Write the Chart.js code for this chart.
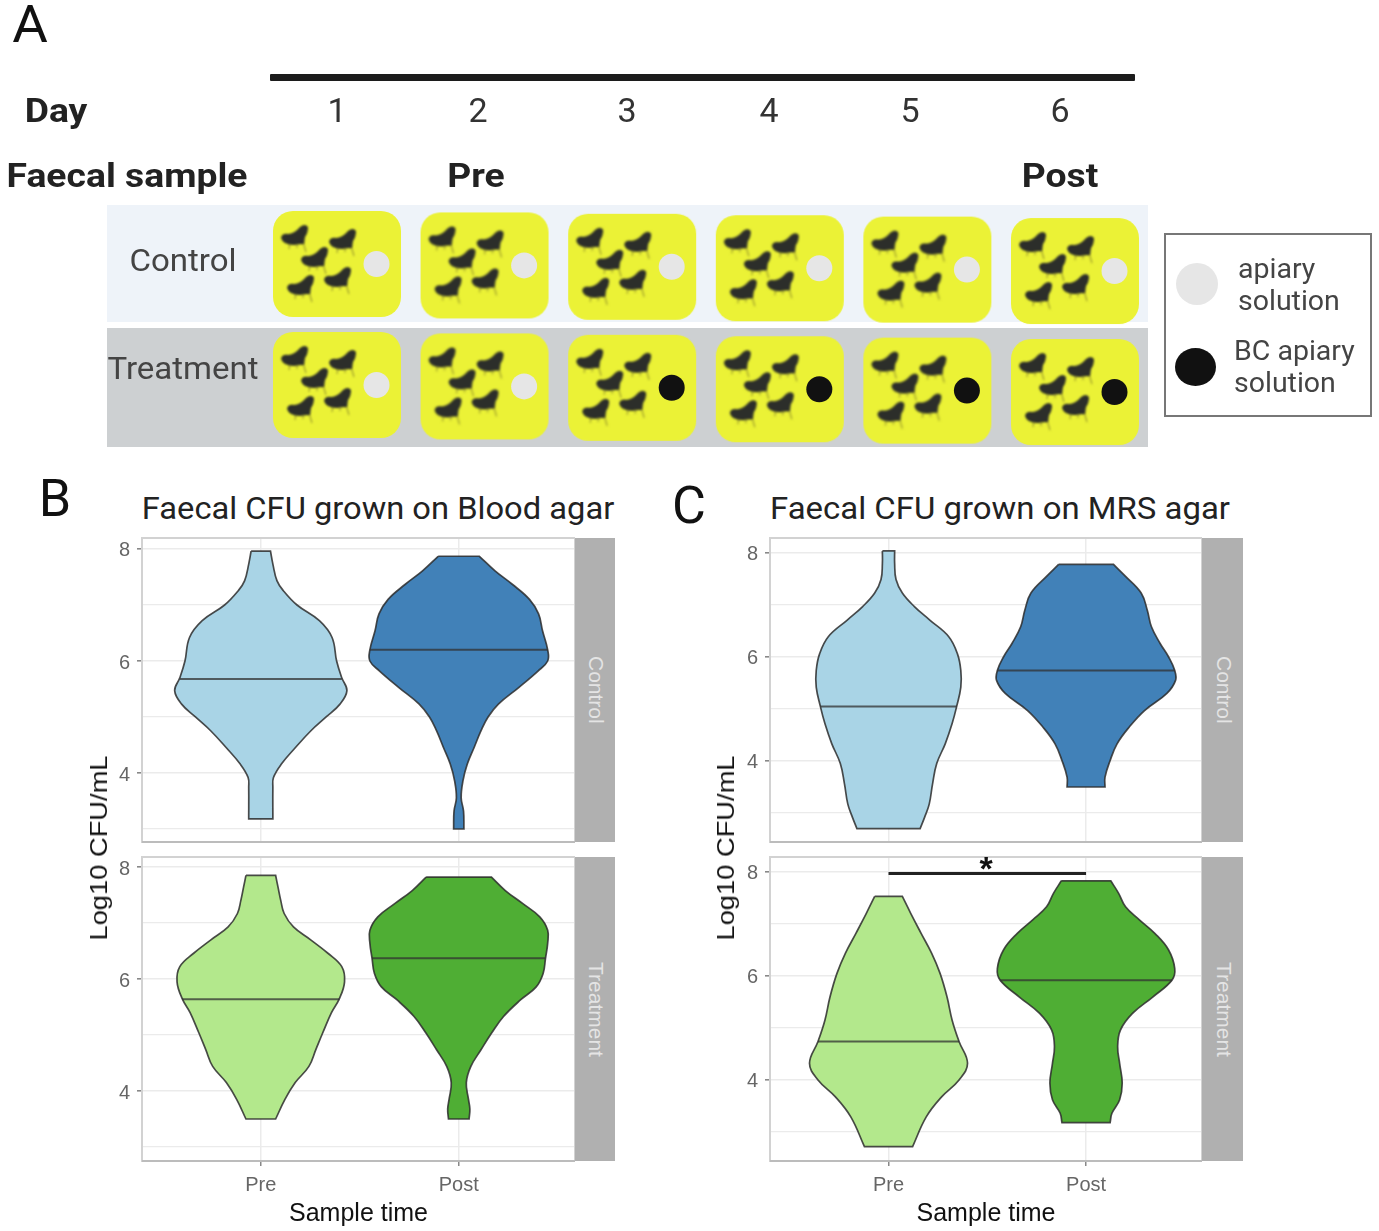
<!DOCTYPE html>
<html>
<head>
<meta charset="utf-8">
<title>Faecal CFU</title>
<script src="https://cdn.jsdelivr.net/npm/chart.js@4/dist/chart.umd.min.js"></script>
<style>
  html, body { margin: 0; padding: 0; background: #fff; }
  #page { position: relative; width: 1379px; height: 1231px; overflow: hidden; font-family: Roboto, sans-serif; }
  #page canvas { position: absolute; }
  .txt { position: absolute; white-space: nowrap; transform: translate(-50%, -50%); line-height: 1; }
  .box { position: absolute; }
  .strip { position: absolute; background: #b0b0b0; color: #e4e4e4; font: 21px "Liberation Sans", sans-serif;
           writing-mode: vertical-rl; text-align: center; line-height: 37px; }
</style>
</head>
<body>
<div id="page">
  <div class="box" style="left:107px;top:205px;width:1041px;height:117px;background:#eef3f9"></div>
  <div class="box" style="left:107px;top:328px;width:1041px;height:119px;background:#cdd0d2"></div>
  <div class="box" style="left:270px;top:74px;width:865px;height:7px;background:#1c1c1c;border-radius:1px"></div>
  <div class="box" style="left:1164px;top:233px;width:204px;height:180px;border:2px solid #777"></div>
  <div class="box" style="left:1176px;top:263px;width:42px;height:42px;border-radius:50%;background:#e6e6e6"></div>
  <div class="box" style="left:1175px;top:348px;width:41px;height:38px;border-radius:50%;background:#111"></div>
  <canvas id="schedule" width="1379" height="460" style="left:0;top:0"></canvas>
  <canvas id="bControl" width="515" height="308" style="left:60px;top:536px"></canvas>
  <canvas id="bTreatment" width="515" height="376" style="left:60px;top:855px"></canvas>
  <canvas id="cControl" width="514" height="308" style="left:688px;top:536px"></canvas>
  <canvas id="cTreatment" width="514" height="376" style="left:688px;top:855px"></canvas>
  <div class="strip" style="left:575px;top:538px;width:40px;height:304px">Control</div>
  <div class="strip" style="left:575px;top:857px;width:40px;height:304px">Treatment</div>
  <div class="strip" style="left:1202px;top:538px;width:41px;height:304px">Control</div>
  <div class="strip" style="left:1202px;top:857px;width:41px;height:304px">Treatment</div>
</div>

<script>
// categories and labels
const days = [1, 2, 3, 4, 5, 6];
const arms = ['Treatment', 'Control'];
const sampleTimes = ['Pre', 'Post'];
const yTicks = [3, 4, 5, 6, 7, 8];

// which solution each arm got on each day
const controlSolution = ['apiary', 'apiary', 'apiary', 'apiary', 'apiary', 'apiary'];
const treatmentSolution = ['apiary', 'apiary', 'BC', 'BC', 'BC', 'BC'];

// violins: log10 CFU levels and half widths (in category units)
const bControlPreY = [7.96, 7.73, 7.43, 7.26, 7.0, 6.72, 6.42, 6.0, 5.7, 5.47, 5.23, 5.0, 4.75, 4.45, 4.16, 3.92, 3.74, 3.18];
const bControlPreW = [0.049, 0.061, 0.082, 0.113, 0.183, 0.296, 0.36, 0.383, 0.409, 0.435, 0.4, 0.33, 0.252, 0.174, 0.104, 0.064, 0.061, 0.061];
const bControlPostY = [7.87, 7.61, 7.37, 7.1, 6.84, 6.54, 6.2, 6.0, 5.82, 5.53, 5.23, 5.0, 4.76, 4.46, 4.16, 3.86, 3.56, 3.32, 3.0];
const bControlPostW = [0.104, 0.183, 0.27, 0.357, 0.403, 0.423, 0.449, 0.449, 0.4, 0.304, 0.2, 0.148, 0.113, 0.078, 0.043, 0.021, 0.012, 0.024, 0.026];
const bTreatPreY = [7.85, 7.64, 7.4, 7.17, 6.93, 6.7, 6.46, 6.22, 5.95, 5.65, 5.4, 5.04, 4.74, 4.44, 4.15, 3.85, 3.5];
const bTreatPreW = [0.075, 0.087, 0.101, 0.118, 0.165, 0.252, 0.339, 0.409, 0.423, 0.397, 0.357, 0.313, 0.278, 0.243, 0.174, 0.122, 0.075];
const bTreatPostY = [7.82, 7.58, 7.35, 7.11, 6.87, 6.64, 6.37, 6.1, 5.86, 5.63, 5.33, 5.03, 4.74, 4.44, 4.15, 3.85, 3.68, 3.5];
const bTreatPostW = [0.165, 0.235, 0.322, 0.409, 0.449, 0.449, 0.438, 0.426, 0.391, 0.313, 0.226, 0.165, 0.113, 0.061, 0.038, 0.049, 0.056, 0.052];
const cControlPreY = [8.04, 7.8, 7.49, 7.23, 6.97, 6.71, 6.39, 6.06, 5.74, 5.42, 5.05, 4.72, 4.33, 3.95, 3.56, 3.17, 2.92, 2.7];
const cControlPreW = [0.031, 0.031, 0.038, 0.07, 0.131, 0.209, 0.305, 0.349, 0.366, 0.366, 0.345, 0.322, 0.287, 0.244, 0.223, 0.206, 0.183, 0.16];
const cControlPostY = [7.78, 7.55, 7.23, 6.9, 6.58, 6.26, 6.0, 5.74, 5.55, 5.3, 4.97, 4.65, 4.33, 4.01, 3.69, 3.5];
const cControlPostW = [0.139, 0.2, 0.279, 0.31, 0.331, 0.375, 0.418, 0.449, 0.453, 0.409, 0.296, 0.218, 0.157, 0.122, 0.096, 0.096];
const cTreatPreY = [7.53, 7.2, 6.82, 6.44, 6.05, 5.6, 5.15, 4.74, 4.32, 4.0, 3.68, 3.29, 2.72];
const cTreatPreW = [0.07, 0.113, 0.165, 0.218, 0.261, 0.296, 0.322, 0.357, 0.4, 0.357, 0.27, 0.191, 0.122];
const cTreatPostY = [7.83, 7.59, 7.33, 7.08, 6.82, 6.5, 6.14, 5.92, 5.6, 5.28, 4.96, 4.64, 4.32, 3.94, 3.62, 3.36, 3.18];
const cTreatPostW = [0.125, 0.165, 0.2, 0.27, 0.348, 0.418, 0.449, 0.435, 0.339, 0.235, 0.174, 0.16, 0.17, 0.183, 0.17, 0.131, 0.122];

// medians [pre, post] and their half widths
const bControlMedian = [5.68, 6.2];
const bControlMedianW = [0.409, 0.449];
const bTreatMedian = [5.64, 6.37];
const bTreatMedianW = [0.397, 0.438];
const cControlMedian = [5.05, 5.74];
const cControlMedianW = [0.345, 0.449];
const cTreatMedian = [4.74, 5.92];
const cTreatMedianW = [0.357, 0.435];

// significance bar in panel C, treatment
const sigBarLevel = 7.97;

const blueLight = '#a9d4e6', blueDark = '#4181b8', greenLight = '#b3e88c', greenDark = '#4fae34';
const lineColor = 'rgba(45,45,45,0.85)';
const page = document.getElementById('page');

function addText(text, x, y, css) {
    const el = document.createElement('div');
    el.className = 'txt';
    el.textContent = text;
    el.style.left = x + 'px';
    el.style.top = y + 'px';
    el.style.cssText += css;
    page.appendChild(el);
}

// the source figure is a little wider than tall, so most text gets a horizontal stretch
function stretch(k) {
    return 'transform:translate(-50%,-50%) scaleX(' + k + ');';
}

// page text
const letterCss = 'font:400 52px Roboto;color:#111;';
addText('A', 30, 24, letterCss + stretch(1.05));
addText('B', 55, 498, letterCss);
addText('C', 689, 505, letterCss);
const boldCss = 'font:700 33px Roboto;color:#222;' + stretch(1.13);
addText('Day', 56, 110, boldCss);
addText('Faecal sample', 127, 175, boldCss);
addText('Pre', 476, 175, boldCss);
addText('Post', 1060, 175, boldCss);
const dayLabelX = [337, 478, 627, 769, 910, 1060];
days.forEach((d, i) => addText(String(d), dayLabelX[i], 110, 'font:400 34px Roboto;color:#333;'));
const armCss = 'font:400 31px Roboto;color:#444;' + stretch(1.065);
addText(arms[1], 183, 260, armCss);
addText(arms[0], 183, 368, armCss);
const legendCss = 'font:400 28.5px Roboto;color:#444;transform:translate(0,-50%);';
addText('apiary', 1238, 268, legendCss);
addText('solution', 1238, 300, legendCss);
addText('BC apiary', 1234, 350, legendCss);
addText('solution', 1234, 382, legendCss);
addText('Faecal CFU grown on Blood agar', 378, 508, 'font:400 31px Roboto;color:#222;' + stretch(1.054));
addText('Faecal CFU grown on MRS agar', 1000, 508, 'font:400 31px Roboto;color:#222;' + stretch(1.062));
const axisCss = 'font:24px "Liberation Sans";color:#111;transform:translate(-50%,-50%) rotate(-90deg) scaleX(1.137);';
addText('Log10 CFU/mL', 99, 848, axisCss);
addText('Log10 CFU/mL', 726, 848, axisCss);
addText('*', 986, 868, 'font:700 34px "Liberation Sans";color:#111;');

// one fly silhouette, centred on 0,0
function drawFly(ctx, x, y) {
    ctx.save();
    ctx.translate(x, y);
    ctx.strokeStyle = '#9a9a2c';
    ctx.lineWidth = 1.1;
    ctx.beginPath();
    ctx.moveTo(-4, 5); ctx.lineTo(-5, 11);
    ctx.moveTo(9, 4); ctx.lineTo(12, 14);
    ctx.moveTo(3, 5); ctx.lineTo(3, 10);
    ctx.stroke();
    ctx.fillStyle = '#2c2e2a';
    ctx.beginPath();
    ctx.moveTo(-13, 0);
    ctx.quadraticCurveTo(-12, -5, -6, -4);
    ctx.quadraticCurveTo(0, -4, 6, -11);
    ctx.quadraticCurveTo(11, -15, 14, -11);
    ctx.quadraticCurveTo(14, -5, 11, -1);
    ctx.lineTo(10, 6);
    ctx.quadraticCurveTo(5, 6, 0, 7);
    ctx.quadraticCurveTo(-11, 7, -13, 0);
    ctx.closePath();
    ctx.fill();
    ctx.restore();
}

// yellow card with five flies, used as the point style of the schedule chart
function makeCard() {
    const c = document.createElement('canvas');
    c.width = 130;
    c.height = 108;
    const ctx = c.getContext('2d');
    ctx.fillStyle = '#ebf236';
    ctx.beginPath();
    ctx.roundRect(1, 1, 128, 106, 20);
    ctx.fill();
    ctx.filter = 'blur(1px)';
    [[22, 28], [70, 32], [42, 50], [28, 78], [65, 70]].forEach(p => drawFly(ctx, p[0], p[1]));
    return c;
}

// panel A: cards and solution dots per day and arm
const rowDrift = -0.0116; // rows slide down a little from day to day in the drawing
const dotOffset = 0.268;
const schedule = [controlSolution, treatmentSolution];
const rowOf = [arms.indexOf('Control'), arms.indexOf('Treatment')];
const cardPoints = [], dotPoints = [], dotColors = [];
schedule.forEach((list, r) => {
    list.forEach((sol, i) => {
        const y = rowOf[r] + i * rowDrift;
        cardPoints.push({ x: days[i], y });
        dotPoints.push({ x: days[i] + dotOffset, y });
        dotColors.push(sol === 'BC' ? '#111111' : '#e6e6e6');
    });
});
new Chart(document.getElementById('schedule'), {
    type: 'scatter',
    data: {
        datasets: [
            { data: dotPoints, pointRadius: 13, pointBackgroundColor: dotColors, pointBorderWidth: 0 },
            { data: cardPoints, pointStyle: makeCard(), pointRadius: 10 }
        ]
    },
    options: {
        responsive: false,
        animation: false,
        layout: { autoPadding: false },
        events: [],
        plugins: { legend: { display: false }, tooltip: { enabled: false } },
        scales: {
            x: { display: false, min: -1.283, max: 8.06 },
            y: { display: false, min: -0.62, max: 3.182 }
        }
    }
});

// closed violin outline around a category, end points doubled to keep the flat ends square
function outline(center, ys, ws) {
    const left = ys.map((y, i) => ({ x: center - ws[i], y }));
    const right = ys.map((y, i) => ({ x: center + ws[i], y })).reverse();
    const n = left.length - 1;
    return [left[0]].concat(left, [left[n]], [right[0]], right, [right[n]], [left[0]]);
}

const panelBorder = {
    id: 'panelBorder',
    afterDatasetsDraw(chart) {
        const a = chart.chartArea, ctx = chart.ctx;
        ctx.save();
        ctx.strokeStyle = '#d2d2d2';
        ctx.lineWidth = 2;
        ctx.strokeRect(a.left, a.top, a.right - a.left, a.bottom - a.top);
        ctx.strokeStyle = '#bcbcbc';
        ctx.beginPath();
        ctx.moveTo(a.left, a.bottom);
        ctx.lineTo(a.right, a.bottom);
        ctx.stroke();
        ctx.restore();
    }
};

function violinChart(id, o) {
    const sets = [];
    if (o.sigBar) {
        sets.push({ data: [{ x: 1, y: o.sigBar }, { x: 2, y: o.sigBar }], showLine: true, borderColor: '#222',
                    borderWidth: 3, pointRadius: 0, clip: false });
    }
    [0, 1].forEach(i => {
        const c = i + 1;
        sets.push({ data: [{ x: c - o.medianW[i], y: o.median[i] }, { x: c + o.medianW[i], y: o.median[i] }],
                    showLine: true, borderColor: 'rgba(50,50,50,0.75)', borderWidth: 2, pointRadius: 0 });
    });
    sets.push({ data: outline(1, o.preY, o.preW), showLine: true, fill: 'shape', backgroundColor: o.colors[0],
                borderColor: lineColor, borderWidth: 1.7, pointRadius: 0, tension: 0.4 });
    sets.push({ data: outline(2, o.postY, o.postW), showLine: true, fill: 'shape', backgroundColor: o.colors[1],
                borderColor: lineColor, borderWidth: 1.7, pointRadius: 0, tension: 0.4 });

    return new Chart(document.getElementById(id), {
        type: 'scatter',
        data: { datasets: sets },
        options: {
            responsive: false,
            animation: false,
            events: [],
            layout: { autoPadding: false, padding: { top: 2 } },
            plugins: { legend: { display: false }, tooltip: { enabled: false } },
            scales: {
                x: {
                    type: 'linear',
                    min: 0.4,
                    max: 2.587,
                    afterFit: s => { s.height = o.bottom ? 70 : 2; s.paddingLeft = 0; s.paddingRight = 0; },
                    afterBuildTicks: s => { s.ticks = [{ value: 1 }, { value: 2 }]; },
                    grid: { color: '#ebebeb', lineWidth: 1.5, tickLength: 5, tickColor: '#888', drawTicks: !!o.bottom },
                    border: { display: false },
                    ticks: {
                        display: !!o.bottom,
                        autoSkip: false,
                        maxRotation: 0,
                        padding: 7,
                        color: '#666',
                        font: { family: 'Liberation Sans', size: 20 },
                        callback: v => sampleTimes[v - 1]
                    },
                    title: {
                        display: !!o.bottom,
                        text: 'Sample time',
                        color: '#111',
                        padding: { top: 0, bottom: 2 },
                        font: { family: 'Liberation Sans', size: 25 }
                    }
                },
                y: {
                    min: o.yMin,
                    max: o.yMax,
                    afterFit: s => { s.width = 82; s.paddingTop = 0; s.paddingBottom = 0; },
                    afterBuildTicks: s => { s.ticks = yTicks.map(v => ({ value: v })); },
                    grid: {
                        color: '#ebebeb',
                        lineWidth: c => (c.tick && c.tick.value % 2 === 0 ? 1.6 : 1.3),
                        tickLength: 5,
                        tickColor: c => (c.tick && c.tick.value % 2 === 0 ? '#888' : 'rgba(0,0,0,0)')
                    },
                    border: { display: false },
                    ticks: {
                        autoSkip: false,
                        padding: 7,
                        labelOffset: 2,
                        color: '#666',
                        font: { family: 'Liberation Sans', size: 20 },
                        callback: v => (v % 2 === 0 ? String(v) : '')
                    }
                }
            }
        },
        plugins: [panelBorder]
    });
}

violinChart('bControl', { preY: bControlPreY, preW: bControlPreW, postY: bControlPostY, postW: bControlPostW,
    median: bControlMedian, medianW: bControlMedianW, colors: [blueLight, blueDark], yMin: 2.768, yMax: 8.196 });
violinChart('bTreatment', { preY: bTreatPreY, preW: bTreatPreW, postY: bTreatPostY, postW: bTreatPostW,
    median: bTreatMedian, medianW: bTreatMedianW, colors: [greenLight, greenDark], yMin: 2.75, yMax: 8.179, bottom: true });
violinChart('cControl', { preY: cControlPreY, preW: cControlPreW, postY: cControlPostY, postW: cControlPostW,
    median: cControlMedian, medianW: cControlMedianW, colors: [blueLight, blueDark], yMin: 2.442, yMax: 8.288 });
violinChart('cTreatment', { preY: cTreatPreY, preW: cTreatPreW, postY: cTreatPostY, postW: cTreatPostW,
    median: cTreatMedian, medianW: cTreatMedianW, colors: [greenLight, greenDark], yMin: 2.442, yMax: 8.288, bottom: true, sigBar: sigBarLevel });
</script>
</body>
</html>
